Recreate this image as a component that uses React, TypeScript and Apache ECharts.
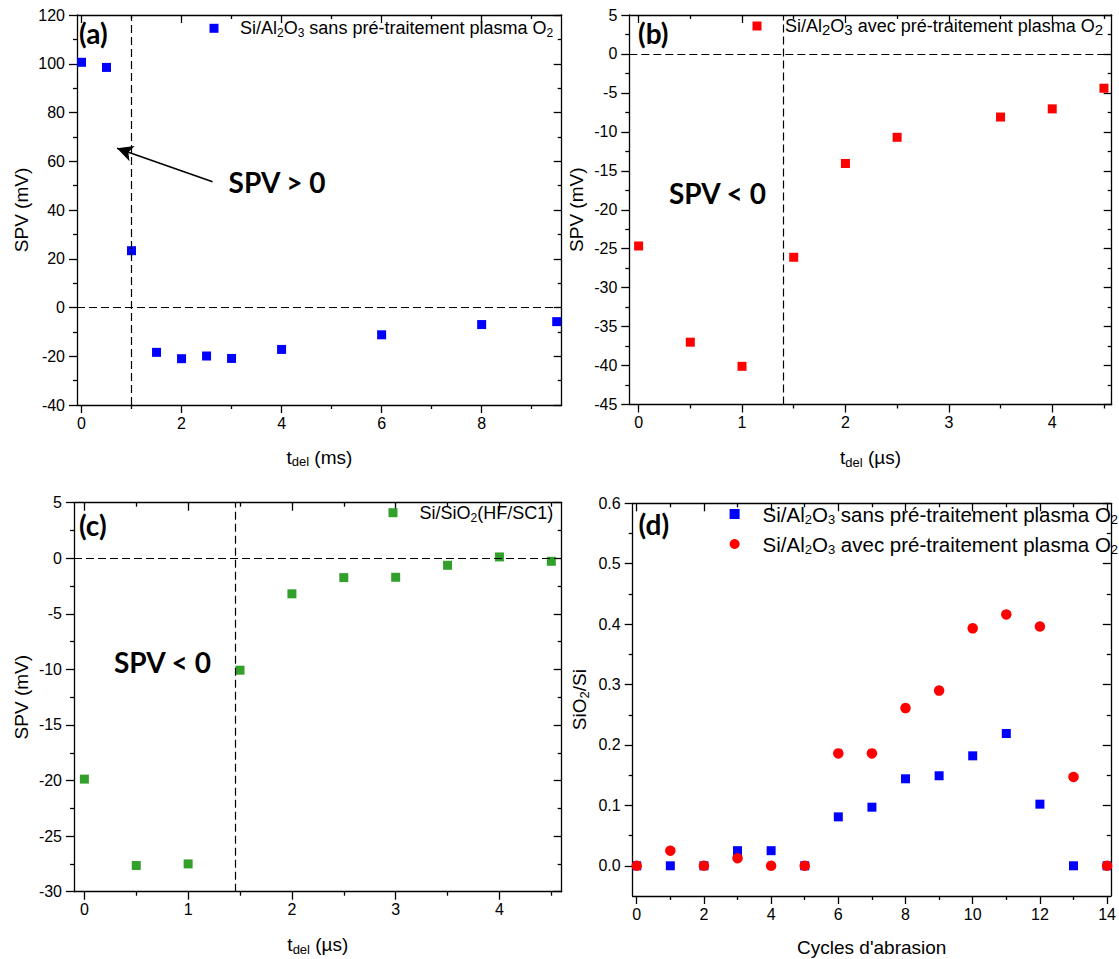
import React, { useEffect, useRef } from 'react';
import * as echarts from 'echarts';

const FONT = "'Liberation Sans', Arial, sans-serif";
const BOLD_FONT = "Lato, 'Open Sans', sans-serif";

// ---- Data ----
// (a) Si/Al2O3 sans pré-traitement plasma O2, t_del in ms
const A_X = [0, 0.5, 1, 1.5, 2, 2.5, 3, 4, 6, 8, 9.5];
const A_Y = [100.6, 98.5, 23.3, -18.4, -21.0, -19.9, -20.9, -17.2, -11.2, -7.0, -5.8];
// (b) Si/Al2O3 avec pré-traitement plasma O2, t_del in µs
const B_X = [0, 0.5, 1, 1.5, 2, 2.5, 3.5, 4, 4.5];
const B_Y = [-24.65, -37.0, -40.1, -26.1, -14.06, -10.7, -8.1, -7.05, -4.4];
// (c) Si/SiO2(HF/SC1), t_del in µs
const C_X = [0, 0.5, 1, 1.5, 2, 2.5, 3, 3.5, 4, 4.5];
const C_Y = [-19.87, -27.64, -27.5, -10.07, -3.2, -1.74, -1.71, -0.63, 0.12, -0.27];
// (d) SiO2/Si vs cycles d'abrasion
const D_X = [0, 1, 2, 3, 4, 5, 6, 7, 8, 9, 10, 11, 12, 13, 14];
const D_SANS = [0, 0, 0, 0.025, 0.025, 0, 0.081, 0.097, 0.144, 0.149, 0.182, 0.219, 0.102, 0, 0];
const D_AVEC = [0, 0.025, 0, 0.0126, 0, 0, 0.186, 0.186, 0.261, 0.29, 0.393, 0.416, 0.396, 0.147, 0];

// reference (dashed) lines
const A_VLINE = 1;
const B_VLINE = 1.4;
const C_VLINE = 1.45;
const ZERO_LINE = 0;
// arrow in (a): from tail to head, data coords
const A_ARROW_FROM = [2.62, 51.6];
const A_ARROW_TO = [0.71, 65.3];

// ---- Tick labels ----
const A_XTICKS = [0, 2, 4, 6, 8];
const A_XMINOR = [1, 3, 5, 7, 9];
const A_YTICKS = [-40, -20, 0, 20, 40, 60, 80, 100, 120];
const A_YMINOR = [-30, -10, 10, 30, 50, 70, 90, 110];
const BC_XTICKS = [0, 1, 2, 3, 4];
const BC_XMINOR = [0.5, 1.5, 2.5, 3.5, 4.5];
const B_YTICKS = [-45, -40, -35, -30, -25, -20, -15, -10, -5, 0, 5];
const B_YMINOR = [-42.5, -37.5, -32.5, -27.5, -22.5, -17.5, -12.5, -7.5, -2.5, 2.5];
const C_YTICKS = [-30, -25, -20, -15, -10, -5, 0, 5];
const C_YMINOR = [-27.5, -22.5, -17.5, -12.5, -7.5, -2.5, 2.5];
const D_XTICKS = [0, 2, 4, 6, 8, 10, 12, 14];
const D_XMINOR = [1, 3, 5, 7, 9, 11, 13];
const D_YTICKS = [0, 0.1, 0.2, 0.3, 0.4, 0.5, 0.6];
const D_YMINOR = [0.05, 0.15, 0.25, 0.35, 0.45, 0.55];

const NAME_SANS = 'Si/Al2O3 sans pré-traitement plasma O2';
const NAME_AVEC = 'Si/Al2O3 avec pré-traitement plasma O2';
const NAME_SIO2 = 'Si/SiO2(HF/SC1)';

const BLUE = '#0000ff';
const RED = '#ff0000';
const GREEN = '#33a02c';

const LINE = { color: '#000', width: 1.3 };

const subRich = (size: number) => ({
  s: { fontSize: size, lineHeight: size, verticalAlign: 'bottom', fontFamily: FONT, color: '#000' },
});

function axesFor(dim: 'x' | 'y', g: number, spec: any) {
  const posMain = dim === 'x' ? 'bottom' : 'left';
  const posOpp = dim === 'x' ? 'top' : 'right';
  const base: any = {
    type: 'value',
    gridIndex: g,
    min: spec.min,
    max: spec.max,
    splitLine: { show: false },
    axisLine: { show: false, onZero: false, lineStyle: LINE },
    axisLabel: { show: false },
    axisTick: { show: false },
  };
  return [
    {
      ...base,
      position: posMain,
      axisLine: { show: true, onZero: false, lineStyle: LINE },
      axisTick: { show: true, inside: false, length: 8, customValues: spec.major, lineStyle: LINE },
      axisLabel: {
        show: true,
        customValues: spec.major,
        margin: dim === 'x' ? 10 : 12,
        fontSize: 16,
        color: '#000',
        fontFamily: FONT,
        formatter: spec.fmt,
      },
      name: spec.name,
      nameLocation: 'middle',
      nameGap: spec.nameGap,
      nameRotate: dim === 'y' ? 90 : 0,
      nameTextStyle: {
        fontSize: 19,
        lineHeight: 22,
        fontFamily: FONT,
        color: '#000',
        rich: subRich(13),
      },
    },
    {
      ...base,
      position: posMain,
      axisTick: { show: true, inside: false, length: 4, customValues: spec.minor, lineStyle: LINE },
    },
    {
      ...base,
      position: posOpp,
      axisLine: { show: true, onZero: false, lineStyle: LINE },
      axisTick: { show: true, inside: true, length: 8, customValues: spec.major, lineStyle: LINE },
    },
    {
      ...base,
      position: posOpp,
      axisTick: { show: true, inside: true, length: 4, customValues: spec.minor, lineStyle: LINE },
    },
  ];
}

const dashed = { type: [8, 4], color: '#000', width: 1.2 };

function refLines(vx: number, extra: any[] = []) {
  return {
    silent: true,
    symbol: ['none', 'none'],
    label: { show: false },
    lineStyle: dashed,
    emphasis: { disabled: true },
    data: [{ xAxis: vx }, { yAxis: ZERO_LINE }, ...extra],
  };
}

const pairs = (xs: number[], ys: number[]) => xs.map((x, i) => [x, ys[i]]);

const legendLabels: Record<string, string> = {
  [NAME_SANS]: 'Si/Al{s|2}O{s|3} sans pré-traitement plasma O{s|2}',
  [NAME_AVEC]: 'Si/Al{s|2}O{s|3} avec pré-traitement plasma O{s|2}',
  [NAME_SIO2]: 'Si/SiO{s|2}(HF/SC1)',
};

function legend(left: number, top: number, items: any[], fontSize: number, sub: number, sp: number, iconSize: number, lineHeight: number, gap = 6) {
  return {
    left,
    top,
    padding: 0,
    orient: 'vertical',
    itemGap: gap,
    itemWidth: iconSize,
    itemHeight: iconSize,
    selectedMode: false,
    data: items,
    formatter: (name: string) => '{sp| }' + legendLabels[name],
    textStyle: {
      fontSize,
      lineHeight,
      fontFamily: FONT,
      color: '#000',
      rich: {
        sp: { width: sp },
        s: { fontSize: sub, lineHeight: sub, verticalAlign: 'bottom', fontFamily: FONT, color: '#000' },
      },
    },
  };
}

function boldText(x: number, y: number, text: string) {
  return {
    type: 'text',
    x,
    y,
    silent: true,
    style: {
      text,
      fontSize: 28,
      fontWeight: 'bold',
      fontFamily: BOLD_FONT,
      fill: '#000',
      verticalAlign: 'middle',
      align: 'left',
    },
  };
}

function buildOption() {
  const grids = [
    { left: 77, top: 15, width: 484.7, height: 390 },
    { left: 629.3, top: 15, width: 482.4, height: 389.5 },
    { left: 74, top: 502.7, width: 487.7, height: 389 },
    { left: 632.7, top: 503.3, width: 478.3, height: 393.4 },
  ];

  const xAxes = [
    ...axesFor('x', 0, { min: -0.09, max: 9.6, major: A_XTICKS, minor: A_XMINOR, name: 't{s|del} (ms)', nameGap: 41 }),
    ...axesFor('x', 1, { min: -0.09, max: 4.575, major: BC_XTICKS, minor: BC_XMINOR, name: 't{s|del} (µs)', nameGap: 42 }),
    ...axesFor('x', 2, { min: -0.1, max: 4.6, major: BC_XTICKS, minor: BC_XMINOR, name: 't{s|del} (µs)', nameGap: 42 }),
    ...axesFor('x', 3, { min: -0.12, max: 14.11, major: D_XTICKS, minor: D_XMINOR, name: "Cycles d'abrasion", nameGap: 40 }),
  ];
  const yAxes = [
    ...axesFor('y', 0, { min: -40, max: 120, major: A_YTICKS, minor: A_YMINOR, name: 'SPV (mV)', nameGap: 45 }),
    ...axesFor('y', 1, { min: -45, max: 5, major: B_YTICKS, minor: B_YMINOR, name: 'SPV (mV)', nameGap: 42 }),
    ...axesFor('y', 2, { min: -30, max: 5, major: C_YTICKS, minor: C_YMINOR, name: 'SPV (mV)', nameGap: 42 }),
    ...axesFor('y', 3, {
      min: -0.05, max: 0.6, major: D_YTICKS, minor: D_YMINOR, name: 'SiO{s|2}/Si', nameGap: 42,
      fmt: (v: number) => v.toFixed(1),
    }),
  ];

  const arrow = [
    { coord: A_ARROW_FROM, symbol: 'none', lineStyle: { type: 'solid', width: 1.6, color: '#000' } },
    { coord: A_ARROW_TO, symbol: 'arrow', symbolSize: [12, 16] },
  ];

  const series: any[] = [
    {
      name: NAME_SANS, type: 'scatter', xAxisIndex: 0, yAxisIndex: 0,
      symbol: 'rect', symbolSize: 9, itemStyle: { color: BLUE, opacity: 1 },
      data: pairs(A_X, A_Y),
      markLine: refLines(A_VLINE, [arrow]),
      z: 3,
    },
    {
      name: NAME_AVEC, type: 'scatter', xAxisIndex: 4, yAxisIndex: 4,
      symbol: 'rect', symbolSize: 9, itemStyle: { color: RED, opacity: 1 },
      data: pairs(B_X, B_Y),
      markLine: refLines(B_VLINE),
      z: 3,
    },
    {
      name: NAME_SIO2, type: 'scatter', xAxisIndex: 8, yAxisIndex: 8,
      symbol: 'rect', symbolSize: 9, itemStyle: { color: GREEN, opacity: 1 },
      data: pairs(C_X, C_Y),
      markLine: refLines(C_VLINE),
      z: 3,
    },
    {
      name: NAME_SANS, type: 'scatter', xAxisIndex: 12, yAxisIndex: 12,
      symbol: 'rect', symbolSize: 9, itemStyle: { color: BLUE, opacity: 1 },
      data: pairs(D_X, D_SANS),
      z: 3,
    },
    {
      name: NAME_AVEC, type: 'scatter', xAxisIndex: 12, yAxisIndex: 12,
      symbol: 'circle', symbolSize: 10.5, itemStyle: { color: RED, opacity: 1 },
      data: pairs(D_X, D_AVEC),
      z: 4,
    },
  ];

  return {
    animation: false,
    backgroundColor: '#fff',
    grid: grids,
    xAxis: xAxes,
    yAxis: yAxes,
    series,
    legend: [
      legend(209.5, 17.3, [{ name: NAME_SANS, icon: 'rect' }], 18, 12, 16.5, 9, 22),
      legend(752.5, 15, [{ name: NAME_AVEC, icon: 'rect' }], 18, 15, 18.5, 9, 22),
      legend(388.5, 501.7, [{ name: NAME_SIO2, icon: 'rect' }], 18, 12, 17, 9, 22),
      legend(729.6, 502, [{ name: NAME_SANS, icon: 'rect' }, { name: NAME_AVEC, icon: 'circle' }], 20.5, 13, 18, 10, 24, 6),
    ],
    graphic: [
      boldText(79, 33, '(a)'),
      boldText(638, 33, '(b)'),
      boldText(79, 525, '(c)'),
      boldText(638.6, 524, '(d)'),
      boldText(228.6, 182, 'SPV > 0'),
      boldText(669, 193, 'SPV < 0'),
      boldText(114, 662, 'SPV < 0'),
    ],
  };
}

export default function App() {
  const ref = useRef<HTMLDivElement>(null);
  useEffect(() => {
    if (!ref.current) return;
    const chart = echarts.init(ref.current, null, { renderer: 'svg' });
    chart.setOption(buildOption() as any);
    return () => chart.dispose();
  }, []);
  return (
    <div
      ref={ref}
      style={{ position: 'absolute', left: 0, top: 0, width: 1119, height: 959, background: '#fff' }}
    />
  );
}
